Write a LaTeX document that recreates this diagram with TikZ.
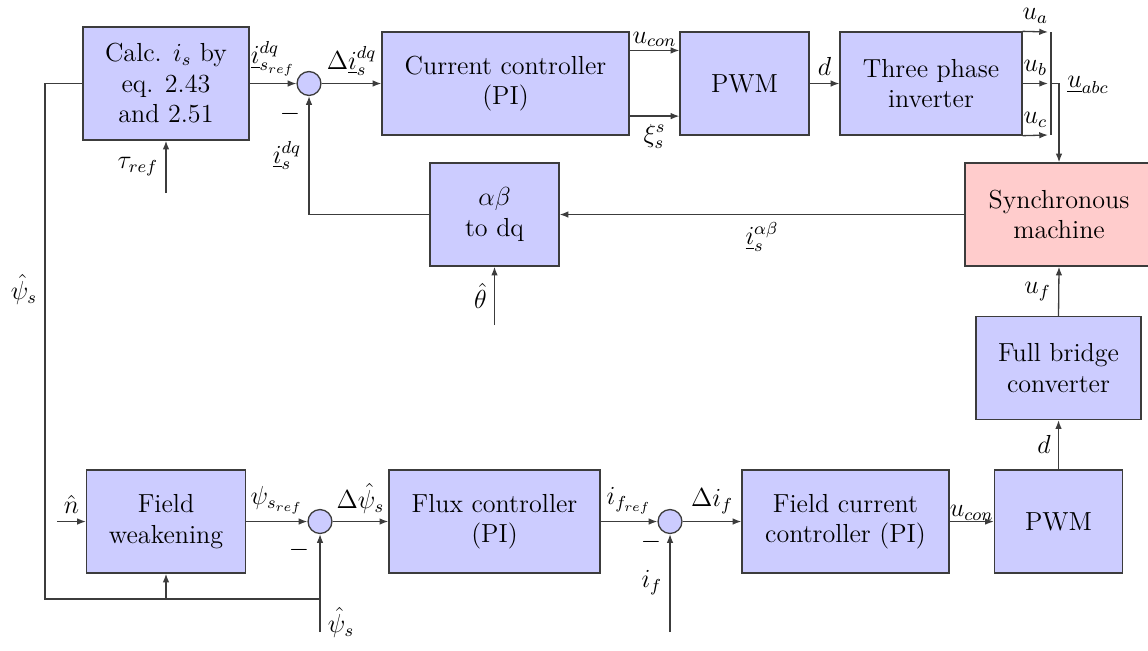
\documentclass[tikz,border=0pt]{standalone}
\usepackage{amsmath}
\usetikzlibrary{arrows.meta,positioning,calc}
\definecolor{blkfill}{RGB}{204,204,255}
\definecolor{smfill}{RGB}{255,204,204}
\definecolor{linegray}{RGB}{60,60,60}

\begin{document}
\begin{tikzpicture}[
  x=0.46pt,
  y=-0.46pt,
  >={Latex[length=4pt,width=3pt]},
  blk/.style={
    draw=linegray,
    fill=blkfill,
    line width=.6pt,
    minimum height=47.4pt,
    inner sep=0pt,
    align=center,
    font=\large
  },
  sumc/.style={
    draw=linegray,
    fill=blkfill,
    line width=.6pt,
    circle,
    inner sep=0pt,
    minimum size=11pt
  },
  sig/.style={
    ->,
    draw=linegray,
    line width=.6pt
  },
  wire/.style={
    draw=linegray,
    line width=.6pt
  },
  lbl/.style={
    font=\large
  }
]
\clip (0,0) rectangle (1148,650);

% current loop
\node[blk,minimum width=76.4pt,minimum height=52pt] (calc) at (166,83.5) {Calc. $i_s$ by\\eq. 2.43\\and 2.51};
\node[sumc] (sum1) at (309,83.5) {};
\node[blk,minimum width=113.6pt] (cc) at (505.5,83.5) {Current controller\\(PI)};
\node[blk,minimum width=59.3pt] (pwm1) at (744.5,83.5) {PWM};
\node[blk,minimum width=83.7pt] (inv) at (931,83.5) {Three phase\\inverter};
\node[blk,fill=smfill,minimum width=86.5pt] (sm) at (1059,214.5) {Synchronous\\machine};
\node[blk,minimum width=59.3pt] (abdq) at (494.5,214.5) {$\alpha\beta$\\to dq};

% field loop
\node[blk,minimum width=75.9pt] (fb) at (1058.5,368) {Full bridge\\converter};
\node[blk,minimum width=58.9pt] (pwm2) at (1058.5,521.5) {PWM};
\node[blk,minimum width=95.2pt] (fcc) at (845.5,521.5) {Field current\\controller (PI)};
\node[sumc] (sum3) at (670,521.5) {};
\node[blk,minimum width=97.1pt] (flux) at (494.5,521.5) {Flux controller\\(PI)};
\node[sumc] (sum2) at (320,521.5) {};
\node[blk,minimum width=73.1pt] (fw) at (166,521.5) {Field\\weakening};

\coordinate (tauin) at (166,193);
\coordinate (thetain) at (494.5,325);
\coordinate (nin) at (57,521.5);
\coordinate (psiin) at (320,632);
\coordinate (ifin) at (670,632);
\coordinate (psij) at (320,599);
\coordinate (fwj) at (166,599);
\coordinate (psil) at (45,599);
\coordinate (bart) at (1051,32);
\coordinate (barb) at (1051,135);
\coordinate (barm) at (1051,83.5);

% top row signals
\draw[sig] (tauin) -- node[left,lbl]{$\tau_{ref}$} (calc.south);
\draw[sig] (calc.east) -- node[above,lbl]{$\underline{i}_{s_{ref}}^{dq}$} (sum1.west);
\draw[sig] (sum1.east) -- node[above,lbl]{$\Delta\underline{i}_s^{dq}$} (cc.west);
\draw[sig] ([yshift=15.2pt]cc.east) -- node[above,lbl,yshift=-2pt]{$u_{con}$} ([yshift=15.2pt]pwm1.west);
\draw[sig] ([yshift=-15pt]cc.east) -- node[below,lbl]{$\xi_s^s$} ([yshift=-15pt]pwm1.west);
\draw[sig] (pwm1.east) -- node[above,lbl]{$d$} (inv.west);

% three phase outputs
\draw[sig] (inv.north east) -- node[above,lbl]{$u_a$} ([xshift=-1.4pt]bart);
\draw[sig] (inv.east) -- node[above,lbl]{$u_b$} ([xshift=-1.4pt]barm);
\draw[sig] (inv.south east) -- node[above,lbl]{$u_c$} ([xshift=-1.4pt]barb);
\draw[wire] (bart) -- (barb);
\draw[sig] (barm) -| (sm.north);
\node[lbl] (uabc) at (1088,85) {$\underline{u}_{abc}$};

% current feedback
\draw[sig] (sm.west) -- node[below,lbl]{$\underline{i}_s^{\alpha\beta}$} (abdq.east);
\draw[sig] (thetain) -- node[left,lbl]{$\hat{\theta}$} (abdq.south);
\draw[sig] (abdq.west) -| node[pos=.75,left,lbl]{$\underline{i}_s^{dq}$} (sum1.south);
\node[lbl] (m1) at ($(sum1)+(-19,30)$) {$-$};

% field path
\draw[sig] (nin) -- node[above,lbl]{$\hat{n}$} (fw.west);
\draw[sig] (fw.east) -- node[above,lbl]{$\psi_{s_{ref}}$} (sum2.west);
\draw[sig] (sum2.east) -- node[above,lbl]{$\Delta\hat{\psi}_s$} (flux.west);
\draw[sig] (flux.east) -- node[above,lbl]{$i_{f_{ref}}$} (sum3.west);
\draw[sig] (sum3.east) -- node[above,lbl]{$\Delta i_f$} (fcc.west);
\draw[sig] (fcc.east) -- node[above,lbl,yshift=-3pt]{$u_{con}$} (pwm2.west);
\draw[sig] (pwm2.north) -- node[left,lbl]{$d$} (fb.south);
\draw[sig] (fb.north) -- node[left,lbl]{$u_f$} (sm.south);
\node[lbl] (m2) at ($(sum2)+(-21,28)$) {$-$};
\node[lbl] (m3) at ($(sum3)+(-19,20)$) {$-$};
\draw[sig] (ifin) -- node[left,lbl]{$i_f$} (sum3.south);

% flux feedback
\draw[sig] (psiin) -- node[pos=.1,right,lbl]{$\hat{\psi}_s$} (sum2.south);
\draw[wire] (psij) -- (psil) -- node[pos=.6,left,lbl]{$\hat{\psi}_s$} (psil |- calc.west) -- (calc.west);
\draw[sig] (fwj) -- (fw.south);

\end{tikzpicture}
\end{document}
